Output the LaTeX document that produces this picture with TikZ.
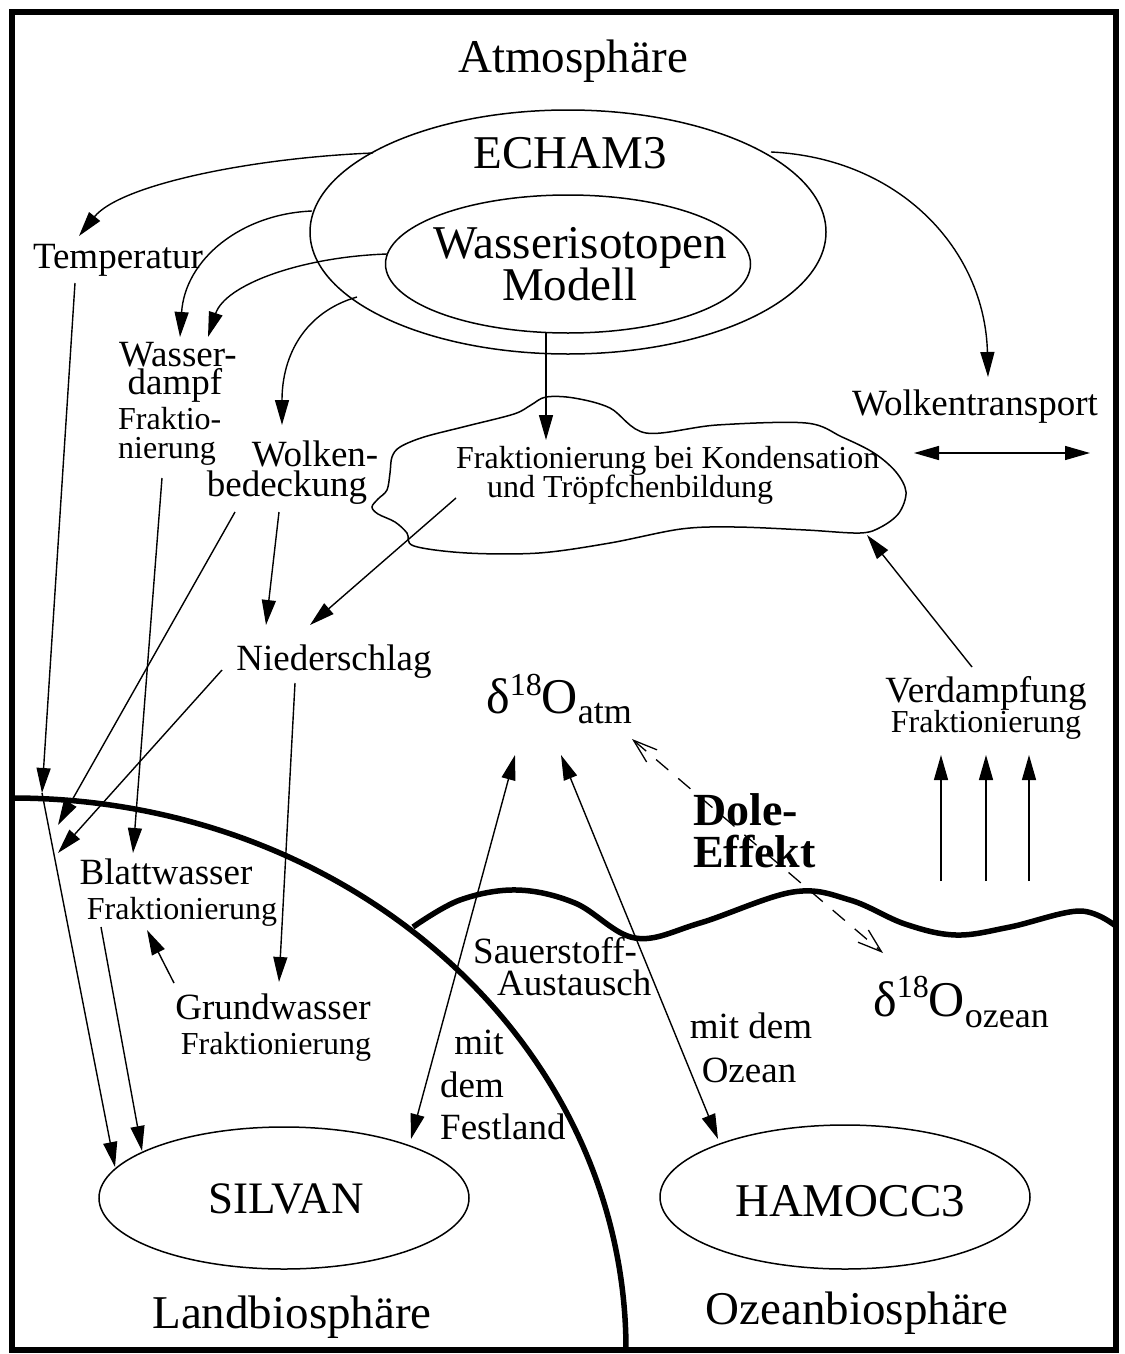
\documentclass[tikz,border=0pt]{standalone}
\usepackage{fontspec}
\setmainfont{Liberation Serif}
\usetikzlibrary{arrows.meta,shapes.geometric}
\newcommand\FsBig{\fontsize{47}{52}\selectfont}
\newcommand\FsMed{\fontsize{37}{40}\selectfont}
\newcommand\FsSma{\fontsize{32}{35}\selectfont}
\newcommand\FsDel{\fontsize{50}{55}\selectfont}
\newcommand\FsSup{\fontsize{32}{35}\selectfont}
\newcommand\FsSub{\fontsize{36}{40}\selectfont}
\newcommand\FsDole{\fontsize{46}{50}\selectfont\bfseries}
\begin{document}
\begin{tikzpicture}[x=1pt,y=-1pt,
  txt/.style={inner sep=0pt, anchor=base},
  txtw/.style={inner sep=0pt, anchor=base west},
  arr/.style={line width=1.4pt, -{Triangle[length=25pt,width=14pt]}},
  dblarr/.style={line width=1.4pt, {Triangle[length=25pt,width=14pt]}-{Triangle[length=25pt,width=14pt]}},
  dolearr/.style={line width=1.3pt, dash pattern=on 16pt off 13pt, {Straight Barb[length=24pt,width=16pt]}-{Straight Barb[length=24pt,width=16pt]}},
  bound/.style={line width=5.5pt},
  ell/.style={ellipse, draw, line width=1.5pt, inner sep=0pt}
]
\useasboundingbox (0,0) rectangle (1124,1354);
\fill[white] (0,0) rectangle (1124,1354);
% frame and boundaries
\draw[bound] (12,12) rectangle (1116,1350);
\draw[bound] (12,798) .. controls (352,798) and (626,1045) .. (626,1350);
\draw[bound] plot[smooth, tension=0.6] coordinates {(413,927) (460,900) (517,890) (575,903) (635,938) (700,923) (793,892) (850,900) (905,924) (956,935) (1010,927) (1080,911) (1117,927)};

% ellipses
\node[ell, minimum width=516pt, minimum height=244pt] (echam) at (568,232) {};
\node[ell, minimum width=365pt, minimum height=138pt] (wim) at (568,264) {};
\node[ell, minimum width=370pt, minimum height=142pt] (silvan) at (284,1198) {};
\node[ell, minimum width=370pt, minimum height=144pt] (hamocc) at (845,1197) {};

% cloud
\draw[line width=1.5pt] plot[smooth cycle, tension=0.55] coordinates {(546,397) (574,398) (610,408) (646,433) (717,425) (806,423) (842,437) (874,453) (896,472) (906,492) (899,513) (881,527) (860,533) (806,530) (735,527) (681,529) (610,543) (539,553) (467,553) (414,546) (407,533) (395,522) (378,514) (372,507) (378,499) (387,490) (390,473) (392,457) (400,447) (424,437) (467,426) (514,414) (531,405)};

% texts
\node[txt] (atmos) at (573,72) {\FsBig Atmosphäre};
\node[txt] (echamt) at (570,168) {\FsBig ECHAM3};
\node[txt] (wiso1) at (580,258) {\FsBig Wasserisotopen};
\node[txt] (wiso2) at (570,300) {\FsBig Modell};
\node[txt] (temp) at (118,268) {\FsMed Temperatur};
\node[txt] (wd1) at (178,366) {\FsMed Wasser-};
\node[txt] (wd2) at (175,394) {\FsMed dampf};
\node[txtw] (wd3) at (118,429) {\FsSma Fraktio-};
\node[txtw] (wd4) at (118,458) {\FsSma nierung};
\node[txt] (wb1) at (315,466) {\FsMed Wolken-};
\node[txt] (wb2) at (287,496) {\FsMed bedeckung};
\node[txt] (nied) at (334,670) {\FsMed Niederschlag};
\node[txtw] (cl1) at (456,468) {\FsSma Fraktionierung bei Kondensation};
\node[txtw] (cl2) at (487,497) {\FsSma und Tröpfchenbildung};
\node[txt] (wtr) at (975,415) {\FsMed Wolkentransport};
\node[txt] (verd1) at (986,702) {\FsMed Verdampfung};
\node[txt] (verd2) at (986,732) {\FsSma Fraktionierung};
\node[txtw] (dole1) at (693,825) {\FsDole Dole-};
\node[txtw] (dole2) at (693,867) {\FsDole Effekt};
\node[txt] (bw1) at (166,884) {\FsMed Blattwasser};
\node[txt] (bw2) at (182,919) {\FsSma Fraktionierung};
\node[txt] (gw1) at (273,1019) {\FsMed Grundwasser};
\node[txt] (gw2) at (276,1054) {\FsSma Fraktionierung};
\node[txtw] (sa1) at (473,963) {\FsMed Sauerstoff-};
\node[txtw] (sa2) at (497,995) {\FsMed Austausch};
\node[txt] (fl1) at (479,1054) {\FsMed mit};
\node[txt] (fl2) at (472,1097) {\FsMed dem};
\node[txtw] (fl3) at (440,1139) {\FsMed Festland};
\node[txt] (oz1) at (751,1038) {\FsMed mit dem};
\node[txt] (oz2) at (749,1082) {\FsMed Ozean};
\node[txt] (silt) at (286,1213) {\fontsize{45}{50}\selectfont SILVAN};
\node[txt] (hamt) at (850,1216) {\FsBig HAMOCC3};
\node[txt] (landt) at (292,1328) {\FsBig Landbiosphäre};
\node[txt] (ozt) at (857,1324) {\FsBig Ozeanbiosphäre};
\node[txtw] (datm) at (486,713) {\FsDel δ\raisebox{18pt}{\FsSup 18}O\raisebox{-10pt}{\FsSub atm}};
\node[txtw] (doz) at (873,1016) {\FsDel δ\raisebox{19pt}{\FsSup 18}O\raisebox{-11pt}{\FsSub ozean}};

% connector end points
\coordinate (eT) at (373,153);   \coordinate (tT) at (79,236);
\coordinate (eW) at (312,211);   \coordinate (tW1) at (180,337);
\coordinate (iW) at (387,254);   \coordinate (tW2) at (208,337);
\coordinate (eB) at (357,297);   \coordinate (tB) at (282,425);
\coordinate (iC) at (546,333);   \coordinate (tC) at (546,440);
\coordinate (eR) at (771,152);   \coordinate (tR) at (988,377);
\coordinate (wtL) at (914,453);  \coordinate (wtR) at (1090,453);
\coordinate (tempS) at (75,283); \coordinate (tempE) at (42,793);
\coordinate (silA) at (115,1167);
\coordinate (bwS) at (101,927);  \coordinate (silB) at (142,1151);
\coordinate (wbS1) at (235,512); \coordinate (bwA) at (58,825);
\coordinate (niS1) at (222,670); \coordinate (bwB) at (58,853);
\coordinate (wdS) at (162,478);  \coordinate (bwC) at (133,853);
\coordinate (gwS) at (174,983);  \coordinate (bwD) at (147,930);
\coordinate (niS2) at (295,683); \coordinate (gwE) at (279,982);
\coordinate (wbS2) at (279,512); \coordinate (niE1) at (266,625);
\coordinate (clS) at (456,498);  \coordinate (niE2) at (310,625);
\coordinate (vdS) at (972,667);  \coordinate (clE) at (867,535);
\coordinate (atmL) at (515,755); \coordinate (silC) at (411,1139);
\coordinate (atmR) at (561,755); \coordinate (hamA) at (718,1139);
\coordinate (doleA) at (632,739); \coordinate (doleB) at (883,953);

% curved arrows from ECHAM3 / Wasserisotopen model
\draw[arr] (eT) .. controls (250,158) and (120,185) .. (tT);
\draw[arr] (eW) .. controls (240,214) and (185,260) .. (tW1);
\draw[arr] (iW) .. controls (300,257) and (225,285) .. (tW2);
\draw[arr] (eB) .. controls (305,312) and (282,355) .. (tB);
\draw[arr] (iC) -- (tC);
\draw[arr] (eR) .. controls (900,158) and (985,250) .. (tR);
\draw[dblarr] (wtL) -- (wtR);

% straight arrows
\draw[arr] (tempS) -- (tempE);
\draw[arr] (tempE) -- (silA);
\draw[arr] (bwS) -- (silB);
\draw[arr] (wbS1) -- (bwA);
\draw[arr] (niS1) -- (bwB);
\draw[arr] (wdS) -- (bwC);
\draw[arr] (gwS) -- (bwD);
\draw[arr] (niS2) -- (gwE);
\draw[arr] (wbS2) -- (niE1);
\draw[arr] (clS) -- (niE2);
\draw[arr] (vdS) -- (clE);
\foreach \xx/\nm in {941/va,986/vb,1029/vc}{
  \coordinate (\nm0) at (\xx,881); \coordinate (\nm1) at (\xx,755);
  \draw[arr] (\nm0) -- (\nm1);
}
\draw[dblarr] (atmL) -- (silC);
\draw[dblarr] (atmR) -- (hamA);
\draw[dolearr] (doleA) -- (doleB);
\end{tikzpicture}
\end{document}
